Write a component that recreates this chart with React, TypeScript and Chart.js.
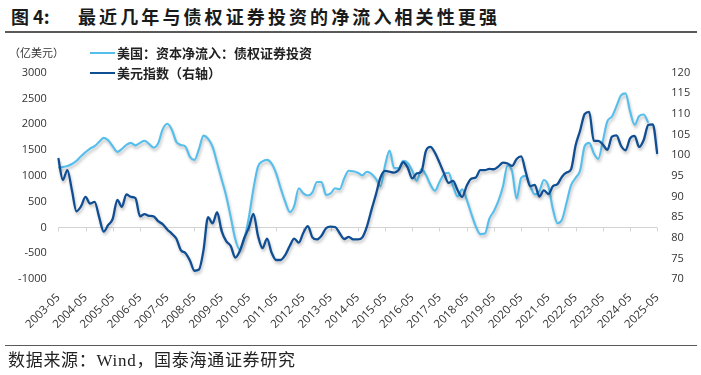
import React, { useEffect, useRef } from 'react';
import { Chart, registerables } from 'chart.js';

Chart.register(...registerables);

// Sampling: every 2 months starting 2003-05
const START_YEAR = 2003;
const START_MONTH = 5;
const STEP_MONTHS = 2;

// 美国：资本净流入：债权证券投资（亿美元，左轴）
const bondNetInflow: (number | null)[] = [
  1160, 1170, 1190, 1230, 1290, 1380, 1460, 1530, 1575, 1660,
  1736, 1690, 1570, 1465, 1520, 1600, 1640, 1590, 1640, 1680,
  1620, 1550, 1630, 1900, 2010, 1900, 1660, 1600, 1570, 1370,
  1310, 1520, 1780, 1720, 1560, 1250, 930, 610, 200, -230,
  -430, -220, 200, 750, 1180, 1280, 1310, 1240, 1050, 760,
  500, 300, 420, 760, 660, 620, 680, 880, 880, 630,
  660, 760, 740, 950, 1100, 1090, 1060, 1010, 1080, 1040,
  940, 800, 1200, 1490, 1150, 1150, 1290, 1250, 1100, 900,
  1130, 1020, 830, 710, 880, 1030, 1060, 800, 600, 740,
  540, 270, 20, -130, -120, 170, 320, 520, 800, 1200,
  1090, 560, 960, 1000, 800, 640, 700, 920, 800, 350,
  80, 150, 480, 820, 960, 1110, 1580, 1640, 1440, 1330,
  1680, 2060, 2150, 2350, 2560, 2600, 2250, 1990, 2160, 2190, 2030,
  null, null,
];

// 美元指数（右轴）
const dollarIndex: number[] = [
  99.3, 94, 96.4, 91.5, 86.4, 87.6, 89.9, 88.3, 88.7, 85,
  81.5, 83.1, 84.6, 89.2, 87.5, 90.5, 89.9, 89.6, 85.2, 85.7,
  85.3, 85.2, 84, 83.3, 82, 81, 79.8, 77, 76.3, 74.5,
  72, 72.3, 77, 85, 83.5, 86.2, 81.6, 79.2, 78, 75.2,
  76.8, 80, 82.5, 85.8, 80.5, 77.5, 79.8, 76.4, 74.6, 74.6,
  75.8, 78, 79.8, 78.8, 81.2, 82.8, 80.1, 79.6, 80.5, 82.3,
  82.7, 82.6, 81.1, 79.7, 80.2, 79.6, 79.6, 80.1, 82.7, 86.7,
  90.5, 94.6, 96.2, 96, 95.8, 96.4, 98.3, 97, 94.4, 95.6,
  96, 101, 102, 100.6, 98.2, 95.6, 93.3, 93.8, 91.5, 89.9,
  92.6, 94.3, 94.6, 96.4, 96.4, 96.7, 96.6, 97.3, 98.2, 98,
  97.4, 99.1, 99.7, 96, 92.5, 92.8, 90, 91.5, 90.6, 92.5,
  93, 94.8, 95.8, 96.6, 102.4, 106, 110, 110.5, 103.5, 103.5,
  102.6, 101.3, 104.5, 104.8, 102.3, 101.2, 104.1, 104.7, 102, 103.7, 107.3, 107.5, 100.3,
];

const LEFT_MIN = -1000;
const LEFT_MAX = 3000;
const LEFT_STEP = 500;
const RIGHT_MIN = 70;
const RIGHT_MAX = 120;
const RIGHT_STEP = 5;
const LABEL_EVERY = 6; // show a label each 12 months

const labels: string[] = dollarIndex.map((_, i) => {
  const m = START_MONTH - 1 + i * STEP_MONTHS;
  const y = START_YEAR + Math.floor(m / 12);
  const mm = (m % 12) + 1;
  return `${y}-${String(mm).padStart(2, '0')}`;
});

const LIGHT = '#55BEEC';
const DARK = '#0F4E93';
const TICK_FONT = "'Open Sans', 'Noto Sans', sans-serif";
const CJK = "'Noto Sans CJK SC', 'Noto Sans', sans-serif";

const shadowPlugin = {
  id: 'lineShadow',
  beforeDatasetDraw(chart: any) {
    const ctx = chart.ctx;
    ctx.save();
    ctx.shadowColor = 'rgba(0,0,0,0.25)';
    ctx.shadowBlur = 3;
    ctx.shadowOffsetX = 1;
    ctx.shadowOffsetY = 2.5;
  },
  afterDatasetDraw(chart: any) {
    chart.ctx.restore();
  },
};

const zeroAxisPlugin = {
  id: 'zeroAxis',
  beforeDatasetsDraw(chart: any) {
    const { ctx, chartArea, scales } = chart;
    const y0 = Math.round(scales.y.getPixelForValue(0)) + 0.5;
    ctx.save();
    ctx.strokeStyle = '#d4d4d4';
    ctx.lineWidth = 1;
    ctx.beginPath();
    ctx.moveTo(chartArea.left, y0);
    ctx.lineTo(chartArea.right, y0);
    labels.forEach((_, i) => {
      if (i % LABEL_EVERY === 0) {
        const x = Math.round(scales.x.getPixelForValue(i)) + 0.5;
        ctx.moveTo(x, y0);
        ctx.lineTo(x, y0 + 4);
      }
    });
    ctx.stroke();
    ctx.restore();
  },
};

function ChartCanvas() {
  const ref = useRef<HTMLCanvasElement | null>(null);
  useEffect(() => {
    if (!ref.current) return;
    const chart = new Chart(ref.current, {
      type: 'line',
      data: {
        labels,
        datasets: [
          {
            label: '美元指数（右轴）',
            data: dollarIndex,
            yAxisID: 'y1',
            borderColor: DARK,
            backgroundColor: DARK,
            borderWidth: 2.3,
            pointRadius: 0,
            cubicInterpolationMode: 'monotone',
            order: 0,
          },
          {
            label: '美国：资本净流入：债权证券投资',
            data: bondNetInflow,
            yAxisID: 'y',
            borderColor: LIGHT,
            backgroundColor: LIGHT,
            borderWidth: 2.1,
            pointRadius: 0,
            cubicInterpolationMode: 'monotone',
            order: 1,
          },
        ],
      },
      options: {
        responsive: false,
        animation: false,
        layout: { padding: { top: 72.7, left: 0, right: 0, bottom: 0 } },
        plugins: {
          legend: { display: false },
          tooltip: { enabled: false },
          title: { display: false },
        },
        scales: {
          x: {
            type: 'category',
            offset: false,
            grid: { display: false, drawTicks: false },
            border: { display: false },
            ticks: {
              autoSkip: false,
              maxRotation: 45,
              minRotation: 45,
              padding: 12,
              color: '#333',
              font: { family: TICK_FONT, size: 11.5 },
              callback: (_v: any, i: number) => (i % LABEL_EVERY === 0 ? labels[i] : ''),
            },
            afterFit: (s: any) => {
              s.height = 96;
            },
          },
          y: {
            position: 'left',
            min: LEFT_MIN,
            max: LEFT_MAX,
            grid: { display: false, drawTicks: false },
            border: { display: false },
            ticks: {
              stepSize: LEFT_STEP,
              padding: 11.5,
              color: '#333',
              font: { family: TICK_FONT, size: 11 },
              callback: (v: any) => String(v),
            },
            afterFit: (s: any) => {
              s.width = 58.3;
            },
          },
          y1: {
            position: 'right',
            min: RIGHT_MIN,
            max: RIGHT_MAX,
            grid: { display: false, drawTicks: false },
            border: { display: false },
            ticks: {
              stepSize: RIGHT_STEP,
              padding: 14,
              color: '#333',
              font: { family: TICK_FONT, size: 11 },
              callback: (v: any) => String(v),
            },
            afterFit: (s: any) => {
              s.width = 43.7;
            },
          },
        },
      },
      plugins: [zeroAxisPlugin, shadowPlugin],
    } as any);
    return () => chart.destroy();
  }, []);
  return (
    <canvas
      ref={ref}
      width={701}
      height={375}
      style={{ position: 'absolute', left: 0, top: 0, width: 701, height: 375 }}
    />
  );
}

export default function App() {
  const abs: React.CSSProperties = { position: 'absolute', whiteSpace: 'nowrap' };
  return (
    <div
      style={{
        position: 'absolute',
        left: 0,
        top: 0,
        width: 701,
        height: 375,
        background: '#fff',
        overflow: 'hidden',
        fontFamily: CJK,
      }}
    >
      <div style={{ ...abs, left: 11, top: 6, fontSize: 18, lineHeight: '20px', fontWeight: 700, color: '#1a1a1a' }}>
        图 4:
      </div>
      <div
        style={{
          ...abs,
          left: 78,
          top: 6,
          fontSize: 18,
          lineHeight: '20px',
          fontWeight: 700,
          letterSpacing: '3.1px',
          color: '#1a1a1a',
        }}
      >
        最近几年与债权证券投资的净流入相关性更强
      </div>
      <div style={{ ...abs, left: 5, top: 31, width: 692, height: 1.5, background: '#5a5a5a' }} />

      <ChartCanvas />

      <div style={{ ...abs, left: 9, top: 45, fontSize: 11, lineHeight: '15px', color: '#333' }}>（亿美元）</div>
      <div style={{ ...abs, left: 90, top: 52, width: 25, height: 2, background: LIGHT }} />
      <div style={{ ...abs, left: 117, top: 44.2, fontSize: 13, lineHeight: '17px', fontWeight: 700, color: '#222' }}>
        美国：资本净流入：债权证券投资
      </div>
      <div style={{ ...abs, left: 90, top: 72, width: 25, height: 2, background: DARK }} />
      <div style={{ ...abs, left: 117, top: 64.2, fontSize: 13, lineHeight: '17px', fontWeight: 700, color: '#222' }}>
        美元指数（右轴）
      </div>

      <div style={{ ...abs, left: 5, top: 344.5, width: 692, height: 1.5, background: '#5a5a5a' }} />
      <div
        style={{
          ...abs,
          left: 8,
          top: 351,
          fontSize: 17,
          lineHeight: '20px',
          letterSpacing: '0.7px',
          color: '#222',
          fontFamily: "'Liberation Serif', 'Noto Sans CJK SC', serif",
        }}
      >
        数据来源：Wind，国泰海通证券研究
      </div>
    </div>
  );
}
